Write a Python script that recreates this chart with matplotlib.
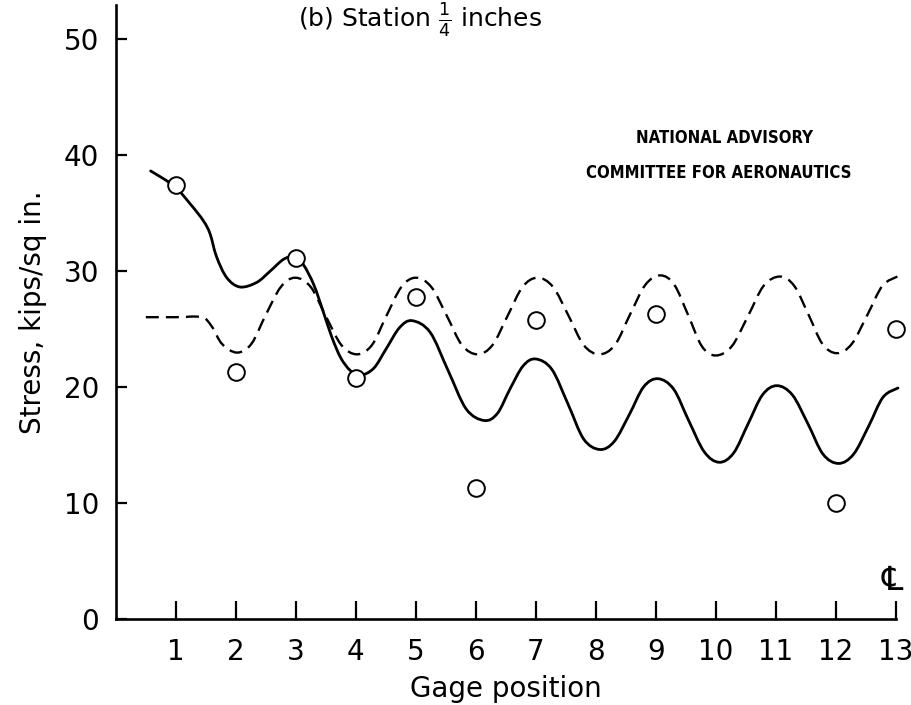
import matplotlib
matplotlib.use("Agg")
import matplotlib.pyplot as plt
import numpy as np
from matplotlib.path import Path
from matplotlib.patches import PathPatch

plt.rc('font', family='DejaVu Sans', size=20)

# measured stresses at the gages
gage = [1, 2, 3, 4, 5, 6, 7, 9, 12, 13]
measured = [37.4, 21.3, 31.1, 20.8, 27.7, 11.3, 25.8, 26.3, 10.0, 25.0]

# solid curve
solid_x = [0.58, 0.97, 1.25, 1.46, 1.57, 1.68, 1.85, 2.07, 2.35, 2.58, 2.8, 2.98,
           3.13, 3.3, 3.45, 3.6, 3.75, 3.91, 4.08,
           4.3, 4.51, 4.73, 4.94, 5.24, 5.54, 5.84, 6.14,
           6.36, 6.57, 6.79, 7.0, 7.27, 7.54, 7.8, 8.07,
           8.31, 8.56, 8.8, 9.04, 9.3, 9.55, 9.81, 10.06,
           10.3, 10.54, 10.78, 11.02, 11.28, 11.54, 11.79, 12.05,
           12.3, 12.55, 12.79, 13.04]
solid_y = [38.6, 37.3, 35.7, 34.3, 33.2, 31.2, 29.4, 28.6, 29.0, 30.0, 31.0, 31.2,
           30.5, 28.8, 26.6, 24.3, 22.5, 21.4, 21.0,
           21.6, 23.3, 25.1, 25.7, 24.7, 21.4, 18.1, 17.1,
           17.7, 19.8, 21.8, 22.4, 21.5, 18.5, 15.5, 14.6,
           15.3, 17.6, 20.0, 20.7, 19.8, 17.1, 14.4, 13.5,
           14.3, 16.8, 19.3, 20.1, 19.3, 16.8, 14.2, 13.4,
           14.2, 16.6, 19.1, 19.9]

# dashed curve
dash_x = [0.5, 1.0, 1.43, 1.6, 1.77, 2.02, 2.26, 2.5, 2.75, 2.99,
          3.25, 3.5, 3.76, 4.02, 4.27, 4.51, 4.76, 5.0,
          5.26, 5.52, 5.77, 6.03, 6.28, 6.53, 6.78, 7.03,
          7.29, 7.55, 7.8, 8.06, 8.32, 8.57, 8.83, 9.08,
          9.31, 9.54, 9.77, 10.0, 10.27, 10.54, 10.8, 11.07,
          11.31, 11.55, 11.78, 12.02, 12.27, 12.53, 12.78, 13.03]
dash_y = [26.0, 26.0, 26.0, 25.2, 23.7, 22.95, 23.7, 26.2, 28.6, 29.4,
          28.6, 26.1, 23.6, 22.8, 23.6, 26.1, 28.6, 29.4,
          28.6, 26.1, 23.6, 22.8, 23.6, 26.1, 28.6, 29.4,
          28.6, 26.1, 23.6, 22.8, 23.6, 26.2, 28.8, 29.6,
          28.8, 26.2, 23.5, 22.7, 23.5, 26.1, 28.7, 29.5,
          28.7, 26.2, 23.7, 22.9, 23.7, 26.2, 28.7, 29.5]

xticks = list(range(1, 14))
yticks = [0, 10, 20, 30, 40, 50]


def curve(xs, ys):
    # cubic bezier path through the read points (catmull-rom handles)
    p = np.column_stack([xs, ys])
    q = np.vstack([p[0], p, p[-1]])
    verts = [p[0]]
    codes = [Path.MOVETO]
    for i in range(len(p) - 1):
        a, b, c, d = q[i], q[i + 1], q[i + 2], q[i + 3]
        verts += [b + (c - a) / 6, c - (d - b) / 6, c]
        codes += [Path.CURVE4] * 3
    return Path(verts, codes)


fig = plt.figure(figsize=(9.12, 7.05), dpi=100)
ax = fig.add_axes([0.127, 0.122, 0.855, 0.871])

ax.add_patch(PathPatch(curve(solid_x, solid_y), fill=False, lw=2.0,
                       ec='black', clip_on=False, capstyle='round'))
ax.add_patch(PathPatch(curve(dash_x, dash_y), fill=False, lw=1.7,
                       ec='black', ls=(0, (5.5, 3)), clip_on=False))
ax.plot(gage, measured, 'o', ms=12, mfc='white', mec='black', mew=1.4,
        clip_on=False, zorder=5)

ax.set_xlim(0, 13)
ax.set_ylim(0, 52.9)
ax.set_xticks(xticks)
ax.set_yticks(yticks)
ax.tick_params(axis='x', direction='in', length=13, width=1.6, pad=14)
ax.tick_params(axis='y', direction='in', length=8, width=1.6, pad=12)
for s in ['top', 'right']:
    ax.spines[s].set_visible(False)
for s in ['left', 'bottom']:
    ax.spines[s].set_linewidth(1.9)

ax.set_xlabel('Gage position', fontsize=20, labelpad=6)
ax.set_ylabel('Stress, kips/sq in.', fontsize=20, labelpad=12)

ax.text(10.15, 41.4, 'NATIONAL ADVISORY', fontsize=12, fontweight='bold',
        fontstretch='condensed', ha='center', va='center')
ax.text(10.05, 38.4, 'COMMITTEE FOR AERONAUTICS', fontsize=12, fontweight='bold',
        fontstretch='condensed', ha='center', va='center')
ax.text(12.95, 3.3, '\u2104', fontsize=24, ha='center', va='center')

fig.text(0.46, 0.999, r'(b) Station $\frac{1}{4}$ inches', fontsize=18,
         ha='center', va='top')

fig.savefig('out.png', dpi=100)
